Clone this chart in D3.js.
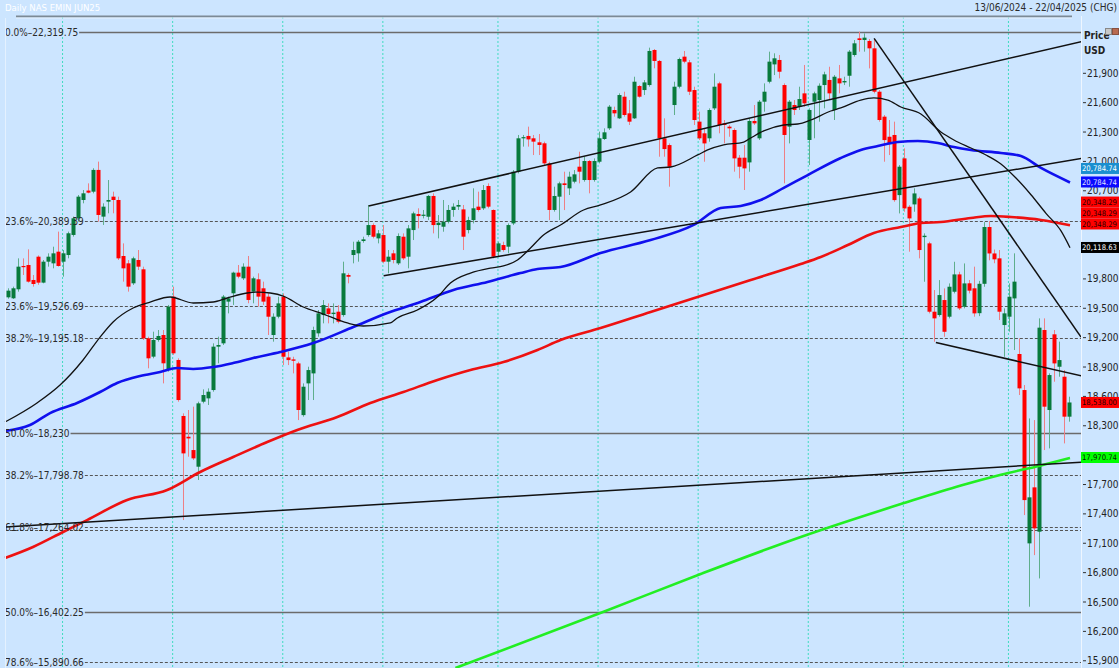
<!DOCTYPE html>
<html><head><meta charset="utf-8">
<script src="https://cdn.jsdelivr.net/npm/d3@7"></script>
<style>
body{margin:0;background:#cce5ff;overflow:hidden}
svg{display:block}
text{font-family:"Liberation Sans Narrow","Arial Narrow","DejaVu Sans Condensed",sans-serif}
</style></head>
<body><svg id="chart" width="1119" height="668"></svg>
<script>
// ---------------- DATA ----------------
const title = "Daily NAS EMIN JUN25";
const dateRange = "13/06/2024 - 22/04/2025 (CHG)";
const openP = [19612,19602,19694,19932,19942,19789,20027,19762,19976,19959,20078,19976,20044,20249,20419,20606,20702,20691,20913,20436,
20589,20640,20606,20034,19959,19755,19993,19898,19193,19006,19176,19227,18870,19619,18972,18400,18188,18052,17882,18546,
18580,18665,19108,19142,19568,19653,19864,19806,19925,19670,19796,19704,19619,19227,19414,19618,18998,18978,18937,18409,
18733,18835,19244,19431,19499,19441,19465,19431,19840,20044,20061,20187,20248,20350,20214,20248,19976,20061,19959,20231,
20027,20299,20463,20453,20435,20647,20350,20333,20384,20504,20538,20510,20299,20401,20538,20521,20749,20504,20078,20146,
20129,20367,20895,21236,21260,21236,21195,21185,20980,20504,20640,20776,20725,20793,20946,20810,21004,20810,20997,21229,
21338,21525,21440,21661,21491,21440,21770,21729,21780,22138,22026,21236,21167,21576,21763,22070,22012,21729,21406,21287,
21236,21542,21797,21389,21355,21321,21038,21038,20990,21413,21236,21610,21814,21991,22036,21780,21355,21576,21559,21695,
21219,21610,21627,21780,21832,21525,21848,21807,21875,22087,22257,22240,22230,22155,21712,21457,21252,21270,20656,21031,
20537,20561,20622,20227,20163,19465,19431,19584,19414,19669,19846,19516,19755,19704,19450,19750,20330,20060,20010,19329,
19414,19601,19033,18665,17099,17671,17218,19278,18461,19234,18903,18801,18393];
const highP = [19704,19721,20010,20010,20102,19840,20040,19993,20061,20129,20283,20095,20283,20436,20657,20708,20776,20930,20998,20572,
20810,20691,20640,20163,19993,20027,20095,19925,19210,19261,19278,19278,19534,19721,18989,18427,18461,18495,18546,18672,
18682,19142,19210,19636,19619,19874,19942,19959,20034,19823,19857,19772,19653,19448,19618,19652,19057,19005,18954,18733,
18903,19312,19482,19584,19550,19550,19533,19976,19857,20180,20197,20231,20555,20367,20299,20350,20095,20095,20265,20265,
20350,20487,20521,20504,20657,20674,20452,20606,20555,20572,20606,20555,20435,20725,20691,20759,20776,20510,20180,20180,
20367,20912,21270,21270,21355,21270,21280,21202,20997,20742,20793,20895,20895,20912,21099,21048,21014,21031,21304,21338,
21576,21559,21695,21712,21627,21865,21780,21831,22162,22148,22036,21440,21184,21814,22060,22128,22036,21763,21508,21338,
21542,21899,21814,21423,21372,21338,21065,21167,21440,21576,21627,21797,22121,22104,22087,21797,21627,21627,21763,21985,
21542,21712,21797,21916,21967,21882,21985,21865,22138,22240,22325,22308,22250,22250,21729,21474,21423,21406,20963,21133,
20554,20725,20639,20265,20180,19686,19788,19703,19754,19975,19873,19958,19789,19925,19780,20380,20390,20100,20095,19499,
19754,20061,19193,18716,18375,18358,19397,19397,18835,19278,19159,18869,18597];
const lowP = [19598,19595,19670,19840,19762,19721,19740,19755,19925,19908,19925,19823,20010,20232,20385,20572,20674,20674,20385,20351,
20470,20470,19993,19772,19670,19738,19891,19176,18887,18989,19159,18733,18853,19023,18546,17337,17984,17950,17746,18529,
18512,18648,18938,19125,19448,19534,19806,19789,19551,19551,19517,19534,19227,19159,19397,18920,18920,18835,18358,18393,
18563,18563,19210,19346,19346,19346,19346,19414,19755,19959,19976,20170,20231,20214,20163,19959,19857,19959,19942,19993,
19908,20197,20316,20418,20401,20265,20214,20282,20367,20435,20504,20095,20265,20367,20487,20504,20521,20010,20027,20078,
20061,20350,20878,21151,21151,21065,21065,20963,20401,20487,20401,20503,20657,20776,20776,20793,20674,20793,20980,21219,
21321,21457,21433,21457,21372,21433,21651,21678,21763,21951,21048,21048,20742,21474,21746,22002,21678,21372,21219,20997,
21201,21525,21287,21184,21252,20895,20827,20708,20895,21372,21219,21508,21797,21882,21848,20776,21184,21474,21525,21559,
20963,21236,21406,21542,21627,21423,21695,21780,21763,22070,22121,22121,21950,21695,21406,20997,21065,20588,20469,20486,
20078,20486,20010,19771,19448,19158,19414,19209,19397,19652,19482,19499,19652,19414,19420,19720,19990,19960,19380,19005,
19261,19074,18614,17388,16452,16979,16741,18052,18069,18750,18801,18120,18342];
const closeP = [19680,19704,19925,19925,19772,19748,19762,19976,20027,20061,19932,20061,20266,20419,20640,20674,20681,20913,20453,20538,
20606,20606,20010,19908,19721,20010,19925,19193,18989,19176,19217,18938,19517,19040,18563,18018,18171,17967,18529,18614,
18648,19108,19125,19619,19602,19864,19823,19925,19585,19806,19619,19568,19414,19414,19550,19005,18971,18964,18461,18699,
18869,19278,19448,19533,19441,19455,19363,19857,19822,20095,20180,20204,20350,20231,20265,19976,20027,19993,20238,20010,
20316,20469,20442,20456,20647,20350,20374,20384,20504,20538,20555,20231,20401,20521,20504,20708,20538,20027,20163,20095,
20350,20895,21236,21248,21225,21202,21168,20980,20504,20647,20776,20759,20844,20868,20895,21004,20810,21004,21236,21297,
21559,21491,21678,21474,21406,21814,21661,21807,22128,22026,21236,21126,20946,21763,22046,22019,21712,21423,21236,21184,
21525,21763,21372,21372,21338,21031,20946,20929,21413,21389,21610,21712,22019,22053,21916,21270,21610,21525,21637,21593,
21525,21695,21773,21889,21695,21865,21797,21821,22121,22206,22240,22264,22155,21712,21423,21218,21184,20605,20946,20520,
20418,20673,20095,20241,19465,19397,19635,19260,19720,19846,19499,19754,19680,19448,19750,20330,20060,20000,19465,19448,
19618,19772,18682,17541,17569,17252,19302,18495,18818,18937,18971,18393,18538];

// first trading day of each month (candle index)
const monthStartIdx = [11,33,55,75,98,118,138,160,179,200];

// moving averages: [candle index, price]
const maBlackIdx = [-0.6,5.8,10.4,15,18.4,21,25,28.4,32.4,37,41,43.8,47.8,49.8,52.4,55,59,63,67.8,71,76.4,77.8,81.8,85.8,88.4,92.4,96.4,99,101.8,104.4,107,110.4,115,118.4,124.4,129.8,132.4,137.8,139.8,143,147,148.4,151,155,157.8,160.4,164.4,166.4,170.4,173,175.8,178.4,182.4,186.4,189,192.4,195.4,198.4,201.4,204.4,207.4,210.4,212.2];
const maBlackVal = [18338,18533,18716,18972,19206,19360,19503,19564,19615,19554,19564,19605,19656,19666,19656,19625,19513,19441,19350,19319,19350,19401,19482,19615,19758,19860,19911,19932,19993,20116,20249,20351,20504,20555,20688,20933,20943,21066,21117,21168,21198,21239,21311,21372,21382,21423,21515,21546,21627,21648,21627,21556,21484,21300,21219,21137,21066,20974,20830,20660,20470,20290,20119];
const maBlueIdx = [-0.6,4.4,8.4,13.8,18.4,21.8,26.4,30.4,33.8,37,41,45,49,54.4,61,69,75.8,82.4,89,95.8,102.4,105.8,110.4,118.4,128.4,137,142.4,146.4,150.4,155,159.8,166.4,170.4,173.8,177.8,181.8,185.8,189,192.4,198.4,202.4,206.4,212.2];
const maBlueVal = [18247,18308,18430,18533,18645,18737,18809,18849,18890,18880,18900,18941,18992,19053,19145,19309,19452,19564,19687,19769,19860,19901,19921,20065,20197,20351,20524,20545,20606,20729,20861,21035,21117,21157,21198,21209,21188,21147,21117,21086,21055,20933,20785];
const maRedIdx = [-0.6,5,11,15.8,23.8,31.8,38.4,45,51.8,57.8,65.8,72.4,79,85.8,92.4,99,105.8,110.4,118.4,128.4,138.4,148.4,158.4,162.4,167.8,173,178.4,182.4,186.4,192.4,196.4,200.4,206.4,212.2];
const maRedVal = [16949,17062,17215,17337,17542,17644,17828,17981,18134,18257,18389,18532,18645,18768,18870,18951,19074,19176,19298,19462,19625,19789,19952,20024,20146,20269,20330,20371,20381,20422,20442,20432,20402,20348];
const maGreenIdx = [89.4,119.4,138.4,158.4,178.4,190.4,198.4,206.4,212.2];
const maGreenVal = [15826,16408,16786,17164,17500,17690,17800,17895,17971];

// hand-drawn trend lines: [index1, price1, index2, price2]
const trendLines = [
  [-0.6,17266,215,17930],
  [72.06,20545,215,22230],
  [75.06,19833,215,21035],
  [173.06,22257,214.4,19206],
  [185.4,19150,215,18803]
];

// Fibonacci retracement levels
const fibPct = ["0.0%","23.6%","23.6%","38.2%","50.0%","38.2%","61.8%","61.8%","50.0%","78.6%"];
const fibVal = [22319.75,20389.39,19526.69,19195.18,18230,17798.78,17264.02,17232,16402.25,15890.66];
const fibText = ["22,319.75","20,389.39","19,526.69","19,195.18","18,230","17,798.78","17,264.02","","16,402.25","15,890.66"];

// right axis ticks
const yTicks = [15900,16200,16500,16800,17100,17400,17700,18000,18300,18600,18900,19200,19500,19800,20100,20400,20700,21000,21300,21600,21900];

// last-value tags on the price axis
const tagText = ["20,784.74","20,784.74","20,348.29","20,348.29","20,348.29","20,118.63","18,538.00","17,970.74"];
const tagVal  = [20928,20790,20585,20473,20361,20121,18538,17976];

// ---------------- DRAWING ----------------
const W = 1119, H = 668;
const plot = {left:0, right:1081, top:17, bottom:668};
const svg = d3.select("#chart");
svg.append("rect").attr("width",W).attr("height",H).attr("fill","#cce5ff");

const x = d3.scaleLinear().domain([0,212]).range([8,1069]);
const y = d3.scaleLinear().domain([15826,22475]).range([plot.bottom, plot.top]);

svg.append("defs").append("clipPath").attr("id","clip")
  .append("rect").attr("x",plot.left).attr("y",plot.top)
  .attr("width",plot.right-plot.left).attr("height",plot.bottom-plot.top);
const g = svg.append("g").attr("clip-path","url(#clip)");

// month gridlines
g.selectAll(".vg").data(monthStartIdx).enter().append("line")
  .attr("x1",d=>x(d)-0.5).attr("x2",d=>x(d)-0.5)
  .attr("y1",plot.top).attr("y2",plot.bottom)
  .attr("stroke","#3fdcc0").attr("stroke-width",1).attr("stroke-dasharray","2,2");

// fib lines + labels
const fibSolid = new Set([0,4,8]);
const labG = svg.append("g");
fibVal.forEach((v,i)=>{
  const yy = Math.round(y(v))+0.5;
  let startX = 5;
  if (fibText[i]) {
    const t = labG.append("text").attr("x",5).attr("y",yy+3.5)
      .attr("font-size",10).attr("fill","#2a2a2a")
      .text(fibPct[i]+"\u2013"+fibText[i]);
    startX = 5 + t.node().getComputedTextLength() + 1;
  }
  g.append("line").attr("x1",startX).attr("x2",plot.right)
    .attr("y1",yy).attr("y2",yy)
    .attr("stroke", fibSolid.has(i) ? "#6b6b6b" : "#555")
    .attr("stroke-width", fibSolid.has(i) ? 1.5 : 1)
    .attr("stroke-dasharray", fibSolid.has(i) ? null : "3,2");
});

// candles
const idx = d3.range(closeP.length);
const up = i => closeP[i] >= openP[i];
g.selectAll(".wick").data(idx).enter().append("line")
  .attr("x1",i=>Math.round(x(i))+0.5).attr("x2",i=>Math.round(x(i))+0.5)
  .attr("y1",i=>y(highP[i])).attr("y2",i=>y(lowP[i]))
  .attr("stroke",i=>up(i)?"#5fae8c":"#ee7f85").attr("stroke-width",1);
g.selectAll(".body").data(idx).enter().append("rect")
  .attr("x",i=>Math.round(x(i))-1.5)
  .attr("width",4)
  .attr("y",i=>y(Math.max(openP[i],closeP[i])))
  .attr("height",i=>Math.max(1.2, Math.abs(y(openP[i])-y(closeP[i]))))
  .attr("fill",i=>up(i)?"#087a3c":"#ff0000");

// moving averages
const lineGen = d3.line().x(d=>x(d[0])).y(d=>y(d[1])).curve(d3.curveMonotoneX);
function ma(idxArr, valArr, color, w){
  g.append("path").datum(idxArr.map((d,i)=>[d,valArr[i]]))
    .attr("d",lineGen).attr("fill","none").attr("stroke",color)
    .attr("stroke-width",w).attr("stroke-linejoin","round");
}
ma(maGreenIdx, maGreenVal, "#22ee22", 2.6);
ma(maRedIdx, maRedVal, "#ee1111", 2.6);
ma(maBlueIdx, maBlueVal, "#1010ee", 2.6);
ma(maBlackIdx, maBlackVal, "#111", 1.3);

// trend lines
g.selectAll(".tl").data(trendLines).enter().append("line")
  .attr("x1",d=>x(d[0])).attr("y1",d=>y(d[1]))
  .attr("x2",d=>x(d[2])).attr("y2",d=>y(d[3]))
  .attr("stroke","#111").attr("stroke-width",1.5);

// frame
svg.append("line").attr("x1",16).attr("x2",1072).attr("y1",16.5).attr("y2",16.5)
  .attr("stroke","#7c8a96").attr("stroke-width",2);
svg.append("line").attr("x1",16).attr("x2",1072).attr("y1",18).attr("y2",18)
  .attr("stroke","#e6f2ff").attr("stroke-width",1);
svg.append("line").attr("x1",1081.5).attr("x2",1081.5).attr("y1",16).attr("y2",H)
  .attr("stroke","#eef6ff").attr("stroke-width",1);
svg.append("line").attr("x1",5.5).attr("x2",5.5).attr("y1",18).attr("y2",H)
  .attr("stroke","#e4f1ff").attr("stroke-width",1);

// right axis (labels fully hidden behind a value tag are not drawn)
const tagH = 11;
const hidden = v => tagVal.some(t => Math.abs(y(t)-y(v)) < tagH/2);
const ax = svg.append("g");
yTicks.forEach(v=>{
  const yy = y(v);
  ax.append("line").attr("x1",1083).attr("x2",1086).attr("y1",yy).attr("y2",yy).attr("stroke","#333");
  if (!hidden(v))
    ax.append("text").attr("x",1087).attr("y",yy+3.5).attr("font-size",10).attr("fill","#222")
      .text(d3.format(",")(v));
});
ax.append("text").attr("x",1084).attr("y",39).attr("font-size",10).attr("font-weight","bold").attr("fill","#222").text("Price");
ax.append("text").attr("x",1084).attr("y",54).attr("font-size",10).attr("font-weight","bold").attr("fill","#222").text("USD");

// value tags: font size chosen so the text fits inside the tag
const tagFill = ["#1a8fd0","#0a0aff","#ff0000","#ff0000","#ff0000","#000000","#ff0000","#00ff00"];
const tagInk  = ["#ffffff","#e0e0ff","#2a0000","#2a0000","#2a0000","#ffffff","#1a0000","#002000"];
const tagW = 38, tagX = 1081;
const probe = svg.append("text").attr("font-size",10).text("20,784.74");
const probeW = probe.node().getComputedTextLength();
probe.remove();
const tagFont = Math.min(10, 10 * (tagW - 3) / probeW);
tagText.forEach((t,i)=>{
  const yy = y(tagVal[i]);
  svg.append("rect").attr("x",tagX).attr("y",yy-tagH/2).attr("width",tagW).attr("height",tagH).attr("fill",tagFill[i]);
  svg.append("text").attr("x",tagX+1).attr("y",yy+tagFont*0.36)
    .attr("font-size",tagFont).attr("fill",tagInk[i]).text(t);
});

// header texts
svg.append("text").attr("x",5).attr("y",11).attr("font-size",9.5).attr("fill","#ffffff").text(title);
svg.append("text").attr("x",1117).attr("y",11).attr("font-size",10).attr("fill","#2b2b2b")
  .attr("text-anchor","end").text(dateRange);
// small window buttons
svg.append("rect").attr("x",1105.5).attr("y",28.5).attr("width",6).attr("height",6).attr("fill","#c8c8c8").attr("stroke","#888");
svg.append("rect").attr("x",1112.5).attr("y",28.5).attr("width",6).attr("height",6).attr("fill","#b86a50").attr("stroke","#885040");
</script></body></html>
